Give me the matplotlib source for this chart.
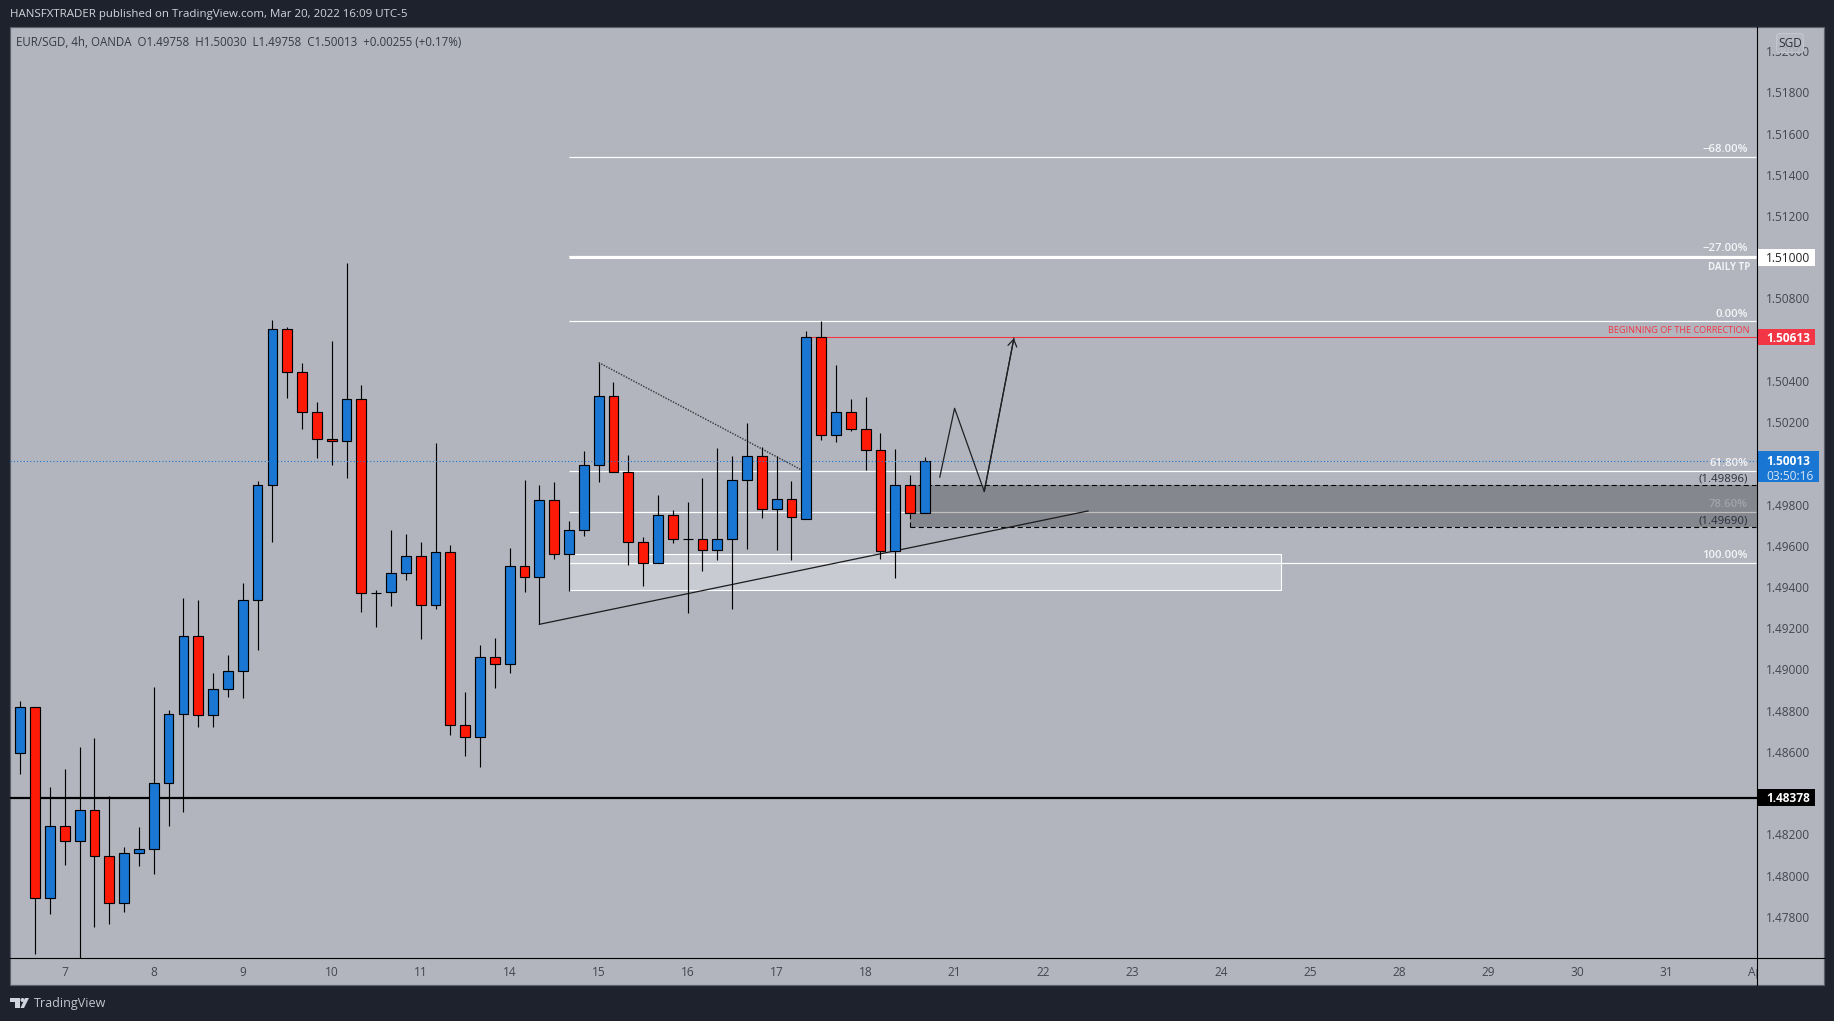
import matplotlib
matplotlib.use("Agg")
import matplotlib.pyplot as plt
from matplotlib.patches import Rectangle, Polygon, Circle, FancyBboxPatch
from matplotlib.lines import Line2D
from matplotlib.transforms import Affine2D, blended_transform_factory, Bbox, TransformedBbox, IdentityTransform

plt.rcParams['font.family'] = ['Open Sans', 'DejaVu Sans']

W, H = 1834, 1021
BG = '#B2B5BE'; FRAME = '#1E222D'; BLUE = '#1976D2'; RED = '#FF1A08'; TAGRED = '#F23645'; TICK = '#434651'

# ---------- data (prices) ----------
opens = [1.48593,1.48817,1.47890,1.48239,1.48166,1.48317,1.48094,1.47866,1.48108,1.48128,
         1.48448,1.48783,1.49161,1.48778,1.48904,1.48991,1.49336,1.49894,1.50651,1.50442,
         1.50248,1.50117,1.50107,1.50311,1.49373,1.49375,1.49467,1.49549,1.49312,1.49569,
         1.48729,1.48671,1.49059,1.49025,1.49501,1.49447,1.49821,1.49559,1.49675,1.49991,
         1.50326,1.49957,1.49617,1.49515,1.49748,1.49632,1.49632,1.49578,1.49632,1.49918,
         1.50034,1.49777,1.49826,1.49732,1.50612,1.50136,1.50248,1.50165,1.50064,1.49574,
         1.49894,1.49758]
highs = [1.48847,1.48817,1.48430,1.48517,1.48624,1.48668,1.48385,1.48137,1.48236,1.48915,
         1.48802,1.49347,1.49337,1.48982,1.49070,1.49420,1.49915,1.50696,1.50662,1.50487,
         1.50298,1.50594,1.50972,1.50380,1.49384,1.49677,1.49657,1.49617,1.50099,1.49604,
         1.48891,1.49119,1.49153,1.49590,1.49919,1.49895,1.49910,1.49721,1.50060,1.50489,
         1.50395,1.50041,1.49643,1.49847,1.49774,1.49811,1.49929,1.50075,1.50034,1.50196,
         1.50078,1.50036,1.49915,1.50642,1.50691,1.50477,1.50312,1.50322,1.50147,1.50070,
         1.49944,1.50030]
lows = [1.48494,1.47621,1.47815,1.48053,1.47590,1.47752,1.47767,1.47825,1.48048,1.48009,
        1.48242,1.48310,1.48722,1.48722,1.48868,1.48863,1.49096,1.49620,1.50319,1.50168,
        1.50028,1.49994,1.49931,1.49280,1.49208,1.49310,1.49436,1.49149,1.49295,1.48684,
        1.48582,1.48528,1.48912,1.48984,1.49378,1.49219,1.49538,1.49382,1.49649,1.49911,
        1.49957,1.49508,1.49407,1.49515,1.49615,1.49276,1.49479,1.49533,1.49292,1.49586,
        1.49737,1.49581,1.49533,1.49732,1.50115,1.50105,1.50159,1.49969,1.49538,1.49445,
        1.49758,1.49758]
closes = [1.48817,1.47890,1.48239,1.48166,1.48317,1.48094,1.47866,1.48108,1.48128,1.48448,
          1.48783,1.49161,1.48778,1.48904,1.48991,1.49336,1.49894,1.50651,1.50442,1.50248,
          1.50117,1.50107,1.50311,1.49370,1.49373,1.49467,1.49549,1.49312,1.49569,1.48729,
          1.48671,1.49059,1.49025,1.49501,1.49447,1.49821,1.49559,1.49675,1.49991,1.50326,
          1.49957,1.49617,1.49515,1.49748,1.49632,1.49632,1.49578,1.49632,1.49918,1.50034,
          1.49777,1.49826,1.49738,1.50612,1.50136,1.50248,1.50165,1.50064,1.49574,1.49894,
          1.49758,1.50013]

day_labels = ['7','8','9','10','11','14','15','16','17','18','21','22','23','24','25','28','29','30','31','Ap']
price_ticks = [1.478,1.480,1.482,1.484,1.486,1.488,1.490,1.492,1.494,1.496,1.498,
               1.502,1.504,1.508,1.512,1.514,1.516,1.518,1.520]

fib_labels = ['−68.00%','−27.00%','0.00%','61.80%','78.60%','100.00%']
fib_prices = [1.51487,1.51006,1.50689,1.49963,1.49766,1.49515]
fib_label_colors = ['#F4F5F7','#F4F5F7','#F4F5F7','#F4F5F7','#A3A4A9','#F4F5F7']
fib_start = 37

daily_tp = 1.51000
correction = 1.50613
support = 1.48378
last_price = 1.50013
zone_top, zone_bottom, zone_start = 1.49896, 1.49690, 60
box_top, box_bottom, box_start, box_end = 1.49560, 1.49384, 37, 85
trend_x, trend_y = [35, 72], [1.49219, 1.49769]
dotted_x, dotted_y = [39, 52.6], [1.50489, 1.49971]
path_x, path_y = [62, 63, 65, 67], [1.49933, 1.50267, 1.49863, 1.50607]

# ---------- layout ----------
fig = plt.figure(figsize=(W/100, H/100), dpi=100, facecolor=FRAME)
T = Affine2D().scale(1, -1).translate(0, H)
PX = 0.72
L, R, TOP, BOT = 10, 1756.5, 27, 958
fig.add_artist(Rectangle((9.5, 27), 1814.5, 958, transform=T, fc=BG, ec='#5D606B', lw=1.2*PX, zorder=-5))
ax = fig.add_axes([L/W, (H-BOT)/H, (R-L)/W, (BOT-TOP)/H])
ax.patch.set_alpha(0)
for s in ax.spines.values():
    s.set_visible(False)
x_per = 14.83
ax.set_xlim((L-20.3)/x_per, (R-20.3)/x_per)
ax.set_ylim(1.47600, 1.52117)

ax.set_yticks(price_ticks, [f'{v:.5f}' for v in price_ticks])
ax.yaxis.tick_right()
ax.tick_params(axis='y', length=0, pad=6.6, labelsize=8.6, labelcolor=TICK)
ax.set_xticks([3 + 6*i for i in range(len(day_labels))], day_labels)
ax.tick_params(axis='x', length=0, pad=6, labelsize=8.6, labelcolor=TICK)
clip = TransformedBbox(Bbox([[0, 0], [R, H]]), IdentityTransform())
lab = ax.get_xticklabels()[-1]
lab.set_clip_on(True); lab.set_clip_box(clip)

right = ax.get_xlim()[1]; left = ax.get_xlim()[0]
# drawings under the candles
ax.add_patch(Rectangle((box_start, box_bottom), box_end-box_start, box_top-box_bottom,
                       fc=(1, 1, 1, .31), ec='white', lw=1.1*PX, zorder=1))
for p in fib_prices:
    ax.plot([fib_start, right], [p, p], color='white', lw=1.2*PX, zorder=1.1, solid_capstyle='butt')
ax.plot([fib_start, right], [daily_tp]*2, color='white', lw=3*PX, zorder=1.1, solid_capstyle='butt')
ax.plot([53, right], [correction]*2, color=TAGRED, lw=1.1*PX, zorder=1.1)
ax.plot([left, right], [support]*2, color='black', lw=2.2*PX, zorder=1.1)
ax.add_patch(Rectangle((zone_start, zone_bottom), right-zone_start, zone_top-zone_bottom,
                       fc=(0, 0, 0, .25), ec='none', zorder=1.2, clip_on=True))
dash = (0, (4.5, 3))
for p in (zone_top, zone_bottom):
    ax.plot([zone_start, right], [p, p], color='black', lw=1.1*PX, ls=dash, zorder=1.3)
ax.plot([zone_start, zone_start], [zone_bottom, zone_top], color='black', lw=1.1*PX, ls=dash, zorder=1.3)

ax.plot(trend_x, trend_y, color='#1c1c1e', lw=1.25*PX, zorder=1.4)
ax.plot(dotted_x, dotted_y, color='#33353a', lw=1.4*PX, ls=(0, (1, 1)), zorder=1.4)

# candles
idx = list(range(len(opens)))
colors = []
for o, c in zip(opens, closes):
    colors.append(BLUE if c > o else RED)
ax.vlines(idx, lows, highs, color='black', lw=1.15*PX, zorder=2)
ax.bar(idx, [abs(c-o) for o, c in zip(opens, closes)], bottom=[min(o, c) for o, c in zip(opens, closes)],
       width=0.66, color=colors, edgecolor='black', linewidth=1.15*PX, zorder=2.1)

ax.plot([left, right], [last_price]*2, color=BLUE, lw=1.1*PX, ls=(0, (1, 2)), zorder=3)
ax.plot(path_x, path_y, color='#1f2023', lw=1.25*PX, zorder=3.2, clip_on=False)
ax.annotate('', xy=(path_x[-1], path_y[-1]), xytext=(path_x[-2], path_y[-2]),
            arrowprops=dict(arrowstyle='->,head_length=0.5,head_width=0.32', color='#1f2023', lw=1.25*PX,
                            shrinkA=0, shrinkB=0), zorder=3.2)

# text on the pane
B = blended_transform_factory(T, ax.transData)
DY = 1/20610
for name, p, c in zip(fib_labels, fib_prices, fib_label_colors):
    ax.text(1748, p + 7.3*DY, name, transform=B, ha='right', va='center', fontsize=8.2, color=c, zorder=4, fontweight='semibold')
ax.text(1750, daily_tp - 9.8*DY, 'DAILY TP', transform=B, ha='right', va='center', fontsize=6.9, color='#F1F2F4', fontweight='bold', zorder=4)
ax.text(1749, correction + 6.6*DY, 'BEGINNING OF THE CORRECTION', transform=B, ha='right', va='center', fontsize=6.6, color=TAGRED, zorder=4)
ax.text(1748, zone_top + 5.8*DY, f'({zone_top:.5f})', transform=B, ha='right', va='center', fontsize=8.2, color='#2A2E39', zorder=4)
ax.text(1748, zone_bottom + 6.5*DY, f'({zone_bottom:.5f})', transform=B, ha='right', va='center', fontsize=8.2, color='#2A2E39', zorder=4)

# price tags
def tag(price, face, fg, x1=1815, bold=False):
    h = 8.4*DY
    ax.add_patch(Rectangle((1757, price-h), x1-1757, 2*h, transform=B, fc=face, ec='none', zorder=5, clip_on=False))
    ax.text(1766, price - 1.2*DY, f'{price:.5f}', transform=B, ha='left', va='center', fontsize=8.6, color=fg, zorder=6,
            fontweight='bold' if bold else 'normal', clip_on=False)
tag(daily_tp, 'white', '#222', )
tag(correction, TAGRED, 'white', bold=True)
tag(support, 'black', 'white', bold=True)
ax.add_patch(Rectangle((1757, last_price-21*DY), 62, 31*DY, transform=B, fc=BLUE, ec='none', zorder=5, clip_on=False))
ax.text(1766, last_price - 1.2*DY, f'{last_price:.5f}', transform=B, ha='left', va='center', fontsize=8.6, color='white', fontweight='bold', zorder=6, clip_on=False)
ax.text(1766, last_price - 15.5*DY, '03:50:16', transform=B, ha='left', va='center', fontsize=8.6, color='#D6E6F7', zorder=6, clip_on=False)

# SGD badge
ax.add_patch(FancyBboxPatch((1778, 1021-51), 24, 16, boxstyle='round,pad=1.5,rounding_size=3', transform=IdentityTransform(),
                            fc=(.72, .73, .77, .85), ec='#C4C6CD', lw=0.8, zorder=5, clip_on=False))
ax.text(1790, 1021-43, 'SGD', transform=IdentityTransform(), ha='center', va='center', fontsize=8.6, color='#2A2E39', zorder=6, clip_on=False)

# chrome
fig.add_artist(Line2D([R, R], [TOP, 985], transform=T, color='black', lw=1.1*PX, zorder=5))
fig.add_artist(Line2D([L, 1824], [BOT, BOT], transform=T, color='black', lw=1.1*PX, zorder=5))
fig.text(9.5, 14.5, 'HANSFXTRADER published on TradingView.com, Mar 20, 2022 16:09 UTC-5', transform=T,
         ha='left', va='center', fontsize=8.25, color='#D1D4DC')
fig.text(16, 42, 'EUR/SGD, 4h, OANDA  O1.49758  H1.50030  L1.49758  C1.50013  +0.00255 (+0.17%)', transform=T,
         ha='left', va='center', fontsize=8.3, color='#363A45')
# logo
LOGO = '#D1D4DC'
fig.add_artist(Polygon([(10, 998), (20, 998), (20, 1008), (15, 1008), (15, 1002), (10, 1002)], transform=T, fc=LOGO, ec='none'))
fig.add_artist(Circle((22.5, 1000), 2, transform=T, fc=LOGO, ec='none'))
fig.add_artist(Polygon([(24, 1008), (20.5, 1008), (25, 998), (29, 998)], transform=T, fc=LOGO, ec='none'))
fig.text(33.5, 1003, 'TradingView', transform=T, ha='left', va='center', fontsize=9.0, color='#C4C7CF')

fig.savefig('out.png', dpi=100, facecolor=FRAME)
